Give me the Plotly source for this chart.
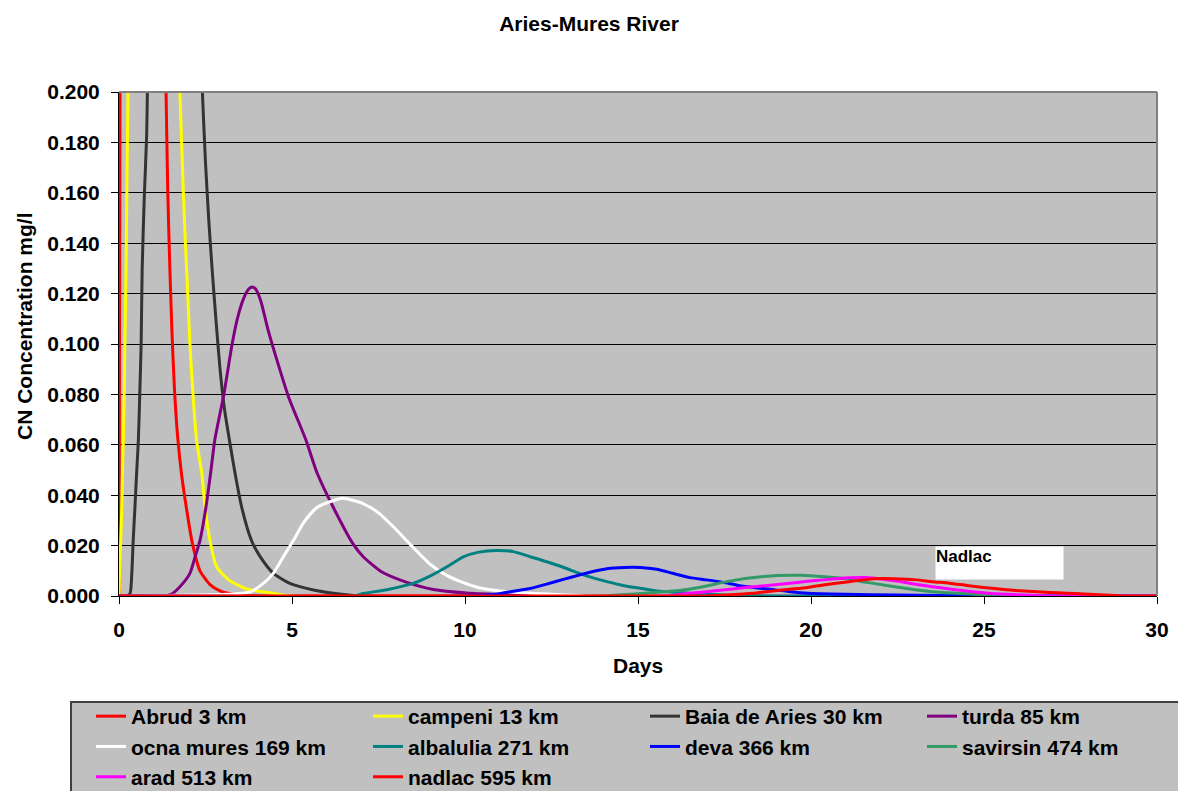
import plotly.graph_objects as go

# ---- data (days, CN concentration mg/l) ----
abrud_x = [0, 0.05, 0.3, 0.8, 1.25, 1.36, 1.41, 1.47, 1.53, 1.60, 1.69, 1.81, 1.97, 2.12, 2.34, 2.63, 2.92, 3.3, 4.0, 30]
abrud_y = [0, 0.35, 1.0, 0.75, 0.30, 0.2, 0.16, 0.13, 0.105, 0.083, 0.064, 0.048, 0.033, 0.021, 0.010, 0.0045, 0.002, 0.0007, 0, 0]

campeni_x = [0, 0.02, 0.05, 0.08, 0.10, 0.125, 0.15, 0.17, 0.20, 0.23, 0.26, 0.32, 0.6, 1.0, 1.5, 1.76, 1.84, 1.90, 1.97, 2.05, 2.14, 2.24, 2.39, 2.49, 2.63, 2.82, 3.2, 3.69, 4.45, 5.0, 30]
campeni_y = [0, 0.012, 0.022, 0.035, 0.049, 0.062, 0.08, 0.10, 0.127, 0.165, 0.2, 0.3, 0.6, 0.55, 0.3, 0.2, 0.168, 0.146, 0.125, 0.10, 0.08, 0.062, 0.049, 0.035, 0.022, 0.0116, 0.0061, 0.0028, 0.0011, 0, 0]

baia_x = [0, 0.22, 0.32, 0.37, 0.41, 0.46, 0.51, 0.56, 0.60, 0.64, 0.67, 0.73, 0.80, 0.82, 0.9, 1.3, 1.8, 2.25, 2.41, 2.5, 2.6, 2.7, 2.8, 2.92, 3.05, 3.19, 3.35, 3.55, 3.83, 4.08, 4.46, 4.94, 5.62, 6.2, 7.0, 30]
baia_y = [0, 0, 0.001, 0.009, 0.022, 0.035, 0.049, 0.062, 0.08, 0.10, 0.13, 0.158, 0.183, 0.2, 0.3, 0.5, 0.45, 0.26, 0.2, 0.172, 0.148, 0.128, 0.11, 0.09, 0.074, 0.062, 0.049, 0.035, 0.022, 0.0156, 0.009, 0.005, 0.0024, 0.0011, 0, 0]

turda_x = [0, 1.3, 1.52, 1.76, 2.05, 2.2, 2.34, 2.51, 2.65, 2.77, 3.03, 3.27, 3.42, 3.6, 3.75, 3.85, 3.95, 4.1, 4.3, 4.6, 4.9, 5.4, 5.72, 6.2, 6.75, 7.06, 7.6, 8.3, 9.08, 10.05, 11.0, 12.0, 13.0, 30]
turda_y = [0, 0, 0.0008, 0.0037, 0.009, 0.0156, 0.022, 0.035, 0.049, 0.062, 0.08, 0.10, 0.110, 0.118, 0.1218, 0.1226, 0.1218, 0.117, 0.106, 0.092, 0.079, 0.062, 0.049, 0.035, 0.021, 0.0156, 0.0095, 0.0055, 0.0026, 0.0012, 0.0006, 0.0002, 0, 0]

ocna_x = [0, 3.3, 3.79, 4.17, 4.46, 4.75, 5.04, 5.33, 5.71, 6.2, 6.48, 7.05, 7.5, 8.0, 8.45, 9.0, 9.47, 9.95, 10.4, 10.9, 11.4, 12.0, 12.8, 13.5, 30]
ocna_y = [0, 0.0008, 0.0016, 0.005, 0.009, 0.0156, 0.022, 0.029, 0.035, 0.0379, 0.0388, 0.0367, 0.033, 0.0265, 0.020, 0.0125, 0.0082, 0.0053, 0.0033, 0.0022, 0.0015, 0.001, 0.0005, 0, 0]

alba_x = [0, 6.8, 7.06, 7.74, 8.5, 9.0, 9.47, 9.95, 10.4, 10.9, 11.4, 11.88, 12.36, 12.84, 13.3, 13.7, 14.1, 14.6, 15.06, 15.54, 16.2, 17.0, 18.0, 19.0, 30]
alba_y = [0, 0, 0.001, 0.0025, 0.005, 0.008, 0.0115, 0.0155, 0.0174, 0.0181, 0.0176, 0.0156, 0.0136, 0.0114, 0.009, 0.0072, 0.0057, 0.0041, 0.0031, 0.002, 0.0014, 0.0007, 0.0002, 0, 0]

deva_x = [0, 10.2, 10.9, 11.4, 11.88, 12.36, 12.84, 13.3, 13.7, 14.1, 14.6, 15.06, 15.54, 16.0, 16.5, 16.98, 17.46, 17.9, 18.4, 18.8, 19.4, 19.9, 21.0, 22.5, 23.7, 24.5, 30]
deva_y = [0, 0, 0.0007, 0.0019, 0.003, 0.0047, 0.0066, 0.0083, 0.0097, 0.0108, 0.0113, 0.0113, 0.0106, 0.009, 0.0073, 0.0064, 0.0054, 0.0042, 0.0033, 0.0027, 0.0017, 0.0011, 0.0007, 0.0004, 0.0002, 0, 0]

savi_x = [0, 14.0, 14.9, 15.5, 16.3, 16.98, 17.46, 17.95, 18.43, 19.0, 19.7, 20.4, 21.13, 21.6, 22.09, 22.57, 23.06, 23.5, 24.2, 25.0, 25.8, 30]
savi_y = [0, 0, 0.0008, 0.0014, 0.0024, 0.004, 0.0054, 0.0066, 0.0074, 0.0081, 0.0082, 0.0076, 0.0066, 0.0054, 0.0044, 0.0034, 0.0024, 0.0017, 0.0011, 0.0005, 0, 0]

arad_x = [0, 15.8, 16.3, 17.0, 17.46, 18.1, 18.9, 19.6, 20.35, 21.1, 21.6, 22.09, 22.57, 23.06, 23.5, 24.0, 24.5, 24.98, 25.5, 26.5, 27.0, 30]
arad_y = [0, 0, 0.0008, 0.0017, 0.0024, 0.0034, 0.0044, 0.0054, 0.0064, 0.0072, 0.0073, 0.0066, 0.0057, 0.0046, 0.0037, 0.0028, 0.002, 0.0013, 0.0008, 0.0002, 0, 0]

nadlac_x = [0, 17.0, 17.8, 18.43, 18.9, 19.4, 19.9, 20.35, 21.1, 21.6, 22.09, 22.6, 23.06, 23.5, 24.0, 24.5, 24.98, 25.5, 25.9, 26.4, 26.9, 27.4, 27.9, 28.5, 29.0, 30]
nadlac_y = [0, 0, 0.0006, 0.0012, 0.002, 0.0027, 0.0034, 0.0044, 0.0057, 0.0065, 0.0069, 0.0067, 0.0064, 0.0057, 0.0051, 0.0042, 0.0034, 0.0027, 0.0022, 0.0018, 0.0014, 0.0011, 0.0008, 0.0004, 0, 0]

series_names = ["Abrud 3 km", "campeni 13 km", "Baia de Aries 30 km", "turda 85 km",
                "ocna mures 169 km", "albalulia 271 km", "deva 366 km", "savirsin 474 km",
                "arad 513 km", "nadlac 595 km"]
series_x = [abrud_x, campeni_x, baia_x, turda_x, ocna_x, alba_x, deva_x, savi_x, arad_x, nadlac_x]
series_y = [abrud_y, campeni_y, baia_y, turda_y, ocna_y, alba_y, deva_y, savi_y, arad_y, nadlac_y]
series_colors = ["#FF0000", "#FFFF00", "#333333", "#800080", "#FFFFFF",
                 "#008080", "#0000FF", "#339966", "#FF00FF", "#FF0000"]

x_ticks = [0, 5, 10, 15, 20, 25, 30]
y_ticks = [0.0, 0.02, 0.04, 0.06, 0.08, 0.10, 0.12, 0.14, 0.16, 0.18, 0.20]

FONT = "Liberation Sans, Arial, sans-serif"

fig = go.Figure()
for name, xs, ys, col in zip(series_names, series_x, series_y, series_colors):
    fig.add_trace(go.Scatter(
        x=xs, y=ys, name=name, mode="lines",
        line=dict(color=col, width=3, shape="spline", smoothing=0.6),
    ))

W, H = 1178, 791
L, R, T, B = 119, 21, 92, 195
pw, ph = W - L - R, H - T - B


def px_x(px):
    return (px - L) / pw


def px_y(py):
    return ((H - B) - py) / ph


fig.update_layout(
    width=W, height=H,
    margin=dict(l=L, r=R, t=T, b=B, pad=0, autoexpand=False),
    paper_bgcolor="white",
    plot_bgcolor="#C0C0C0",
    font=dict(family=FONT, size=21, color="black", weight="bold"),
    title=dict(text="Aries-Mures River", x=0.5, xref="container", xanchor="center",
               y=1 - 24 / H, yref="container", yanchor="middle",
               font=dict(family=FONT, size=21, color="black", weight="bold")),
    showlegend=True,
    legend=dict(
        orientation="h",
        x=px_x(91), xanchor="left",
        y=px_y(696), yanchor="top",
        bgcolor="rgba(0,0,0,0)", borderwidth=0,
        entrywidth=232, entrywidthmode="pixels",
        font=dict(family=FONT, size=21, color="black", weight="bold"),
        traceorder="normal",
    ),
    xaxis=dict(
        range=[0, 30], tickvals=x_ticks, ticktext=[str(v) for v in x_ticks],
        showgrid=False, zeroline=False,
        showline=True, linecolor="black", linewidth=1,
        ticks="outside", ticklen=7, tickcolor="black", ticklabelstandoff=8,
        tickfont=dict(family=FONT, size=21, color="black", weight="bold"),
    ),
    yaxis=dict(
        range=[0, 0.2], tickvals=y_ticks, ticktext=[f"{v:.3f}" for v in y_ticks],
        showgrid=True, gridcolor="black", gridwidth=1, zeroline=False,
        showline=True, linecolor="black", linewidth=1,
        ticks="outside", ticklen=7, tickcolor="black", ticklabelstandoff=7,
        tickfont=dict(family=FONT, size=21, color="black", weight="bold"),
    ),
    annotations=[
        dict(text="Days", xref="paper", yref="paper", x=0.5, y=px_y(665),
             xanchor="center", yanchor="middle", showarrow=False,
             font=dict(family=FONT, size=21, color="black", weight="bold")),
        dict(text="CN Concentration mg/l", xref="paper", yref="paper",
             x=px_x(24), y=px_y(326), textangle=-90,
             xanchor="center", yanchor="middle", showarrow=False,
             font=dict(family=FONT, size=21, color="black", weight="bold")),
        dict(text="Nadlac", xref="x", yref="y", x=23.58, y=0.0131,
             xanchor="left", yanchor="middle", showarrow=False,
             width=127, height=32, align="left", valign="top",
             bgcolor="white", borderpad=0,
             font=dict(family=FONT, size=17, color="black", weight="bold")),
    ],
    shapes=[
        dict(type="line", xref="paper", yref="paper", x0=0, x1=1, y0=1, y1=1,
             line=dict(color="#808080", width=2), layer="above"),
        dict(type="line", xref="paper", yref="paper", x0=1, x1=1, y0=0, y1=1,
             line=dict(color="#808080", width=2), layer="above"),
        # legend frame
        dict(type="rect", xref="paper", yref="paper",
             x0=px_x(71), x1=px_x(1200), y0=px_y(702), y1=px_y(810),
             line=dict(color="#404040", width=2), fillcolor="#C0C0C0", layer="below"),
    ],
)

fig.write_html("out.html", config={"displayModeBar": False},
               post_script="document.body.style.margin='0';")
